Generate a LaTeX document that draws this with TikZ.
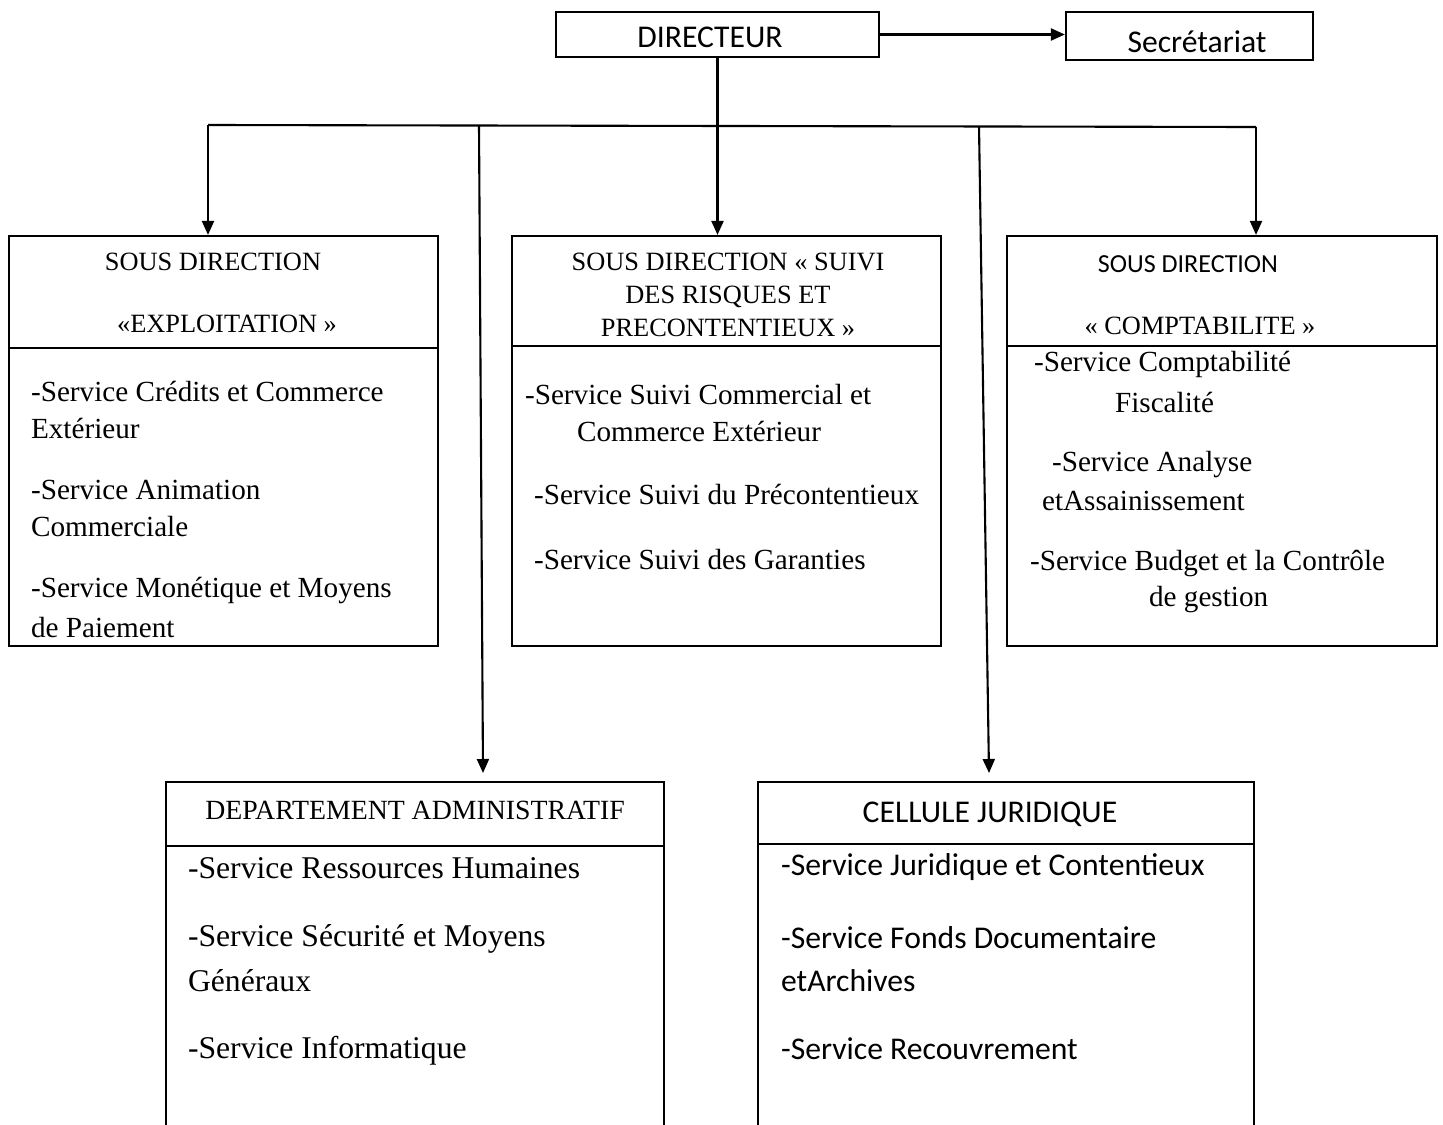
\documentclass[tikz,border=0pt]{standalone}
\usepackage{fontspec}
\setmainfont{Liberation Serif}
\newfontfamily\cali{Carlito}
\usepackage{tikz}
\usetikzlibrary{arrows.meta}
\newcommand{\szhd}{\fontsize{7.5pt}{9.4pt}\selectfont}
\newcommand{\szit}{\fontsize{8.3pt}{10pt}\selectfont}
\newcommand{\szadm}{\fontsize{7.9pt}{9.5pt}\selectfont}
\newcommand{\szbig}{\fontsize{9pt}{11pt}\selectfont}

\begin{document}
\begin{tikzpicture}[x=0.01cm,y=-0.01cm,line width=0.6pt,
  box/.style={draw,rectangle,inner sep=0pt},
  txt/.style={anchor=west,inner sep=0pt},
  hd/.style={inner sep=0pt,align=center},
  >={Triangle[width=0.12cm,length=0.14cm]}]

\path[use as bounding box,clip] (0,0) rectangle (1443,1124);

% directeur
\node[box,minimum width=3.23cm,minimum height=0.45cm] (dir) at (717.5,34.5) {};
\node[hd] (dirt) at (710,37) {\szbig\cali DIRECTEUR};
\node[box,minimum width=2.47cm,minimum height=0.48cm] (sec) at (1189.5,36) {};
\node[hd] (sect) at (1197,42) {\szbig\cali Secrétariat};
\draw[->] (dir.east) -- (dir.east -| sec.west);

% sous directions
\node[box,minimum width=4.29cm,minimum height=1.12cm] (expH) at (223.5,292) {};
\node[box,minimum width=4.29cm,minimum height=2.98cm] (expB) at (223.5,497) {};
\node[box,minimum width=4.29cm,minimum height=1.10cm] (risH) at (726.5,291) {};
\node[box,minimum width=4.29cm,minimum height=3.00cm] (risB) at (726.5,496) {};
\node[box,minimum width=4.30cm,minimum height=1.10cm] (cptH) at (1222,291) {};
\node[box,minimum width=4.30cm,minimum height=3.00cm] (cptB) at (1222,496) {};

\node[hd] (exp1) at (213,262) {\szhd SOUS DIRECTION};
\node[hd] (exp2) at (227,324) {\szhd «EXPLOITATION »};
\node[txt] (e1) at (30,391) {\szit -Service Crédits et Commerce};
\node[txt] (e2) at (30,428) {\szit Extérieur};
\node[txt] (e3) at (30,490) {\szit -Service Animation};
\node[txt] (e4) at (30,527) {\szit Commerciale};
\node[txt] (e5) at (30,590) {\szit -Service Monétique et Moyens};
\node[txt] (e6) at (30,628) {\szit de Paiement};

\node[hd,font=\szhd] (ris) at (728,295) {SOUS DIRECTION « SUIVI\\DES RISQUES ET\\PRECONTENTIEUX »};
\node[txt] (r1) at (524,395) {\szit -Service Suivi Commercial et};
\node[txt] (r2) at (576,431) {\szit Commerce Extérieur};
\node[txt] (r3) at (533,494) {\szit -Service Suivi du Précontentieux};
\node[txt] (r4) at (533,560) {\szit -Service Suivi des Garanties};

\node[hd] (cpt1) at (1188,264) {\fontsize{7.4pt}{9pt}\selectfont\cali SOUS DIRECTION};
\node[hd] (cpt2) at (1200,326) {\szhd « COMPTABILITE »};
\node[txt] (c1) at (1033,364) {\szit -Service Comptabilité};
\node[txt] (c2) at (1114,402) {\szit Fiscalité};
\node[txt] (c3) at (1051,465) {\szit -Service Analyse};
\node[txt] (c4) at (1041,501) {\szit etAssainissement};
\node[txt] (c5) at (1029,563) {\szit -Service Budget et la Contrôle};
\node[txt] (c6) at (1148,600) {\szit de gestion};

% departement et cellule
\node[box,minimum width=4.98cm,minimum height=0.64cm] (admH) at (415,814) {};
\node[box,minimum width=4.98cm,minimum height=3.54cm] (admB) at (415,1023) {};
\node[box,minimum width=4.96cm,minimum height=0.62cm] (jurH) at (1006,813) {};
\node[box,minimum width=4.96cm,minimum height=3.56cm] (jurB) at (1006,1022) {};

\node[hd] (adm) at (415,810) {\szadm DEPARTEMENT ADMINISTRATIF};
\node[txt] (a1) at (187,868) {\szbig -Service Ressources Humaines};
\node[txt] (a2) at (187,939) {\szbig -Service Sécurité et Moyens};
\node[txt] (a3) at (187,981) {\szbig Généraux};
\node[txt] (a4) at (187,1051) {\szbig -Service Informatique};

\node[hd] (jur) at (990,814) {\szbig\cali CELLULE JURIDIQUE};
\node[txt] (j1) at (780,867) {\szbig\cali -Service Juridique et Contentieux};
\node[txt] (j2) at (780,938) {\szbig\cali -Service Fonds Documentaire};
\node[txt] (j3) at (780,981) {\szbig\cali etArchives};
\node[txt] (j4) at (780,1049) {\szbig\cali -Service Recouvrement};

% liaisons
\coordinate (busL) at (208,125);
\coordinate (busR) at (1256,127);
\coordinate (busA) at (479,126);
\coordinate (busB) at (979,126);
\coordinate (admIn) at (483,773);
\coordinate (jurIn) at (989,773);
\draw (busL) -- (busR);
\draw[->] (busL) -- (busL |- expH.north);
\draw[->] (dir.south) -- (dir.south |- risH.north);
\draw[->] (busR) -- (busR |- cptH.north);
\draw[->] (busA) -- (admIn);
\draw[->] (busB) -- (jurIn);

\end{tikzpicture}
\end{document}
